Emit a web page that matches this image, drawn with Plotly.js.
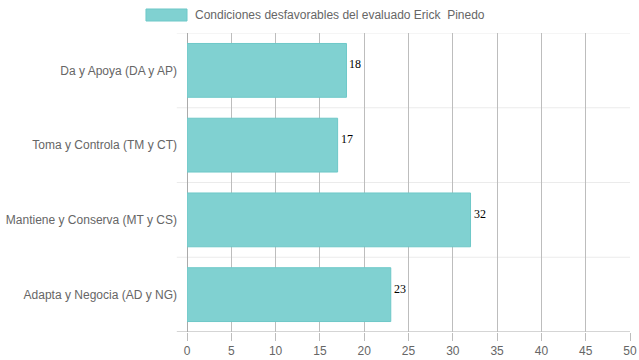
<!DOCTYPE html>
<html><head><meta charset="utf-8">
<script src="https://cdn.plot.ly/plotly-3.0.1.min.js"></script>
<style>html,body{margin:0;padding:0;background:#fff}#c{width:639px;height:360px}</style>
</head><body><div id="c"></div>
<script>
const categories = ["Da y Apoya (DA y AP)", "Toma y Controla (TM y CT)", "Mantiene y Conserva (MT y CS)", "Adapta y Negocia (AD y NG)"];
const values = [18, 17, 32, 23];
const seriesName = "Condiciones desfavorables del evaluado Erick  Pinedo";
const xTicks = [0, 5, 10, 15, 20, 25, 30, 35, 40, 45, 50];

const trace = {
  type: "bar", orientation: "h",
  x: values, y: categories, width: 0.72,
  marker: {color: "rgb(128,209,209)", line: {color: "rgb(110,200,200)", width: 1}},
  hoverinfo: "none", showlegend: false
};

const shapes = [];
for (let i = 0; i <= categories.length; i++) {
  shapes.push({type: "line", xref: "paper", yref: "y", x0: -0.023, x1: 1, y0: i - 0.5, y1: i - 0.5,
    line: {color: i === categories.length ? "#aaaaaa" : "#ebebeb", width: 1}, layer: "below"});
}
shapes.push({type: "rect", xref: "paper", yref: "paper", x0: -0.0926, x1: 0, y0: 1.0401, y1: 1.0803,
  fillcolor: "rgb(128,209,209)", line: {color: "rgb(110,200,200)", width: 1}});

const annotations = values.map((v, i) => ({
  x: v, y: categories[i], xref: "x", yref: "y", text: String(v), showarrow: false,
  xanchor: "left", yanchor: "middle", xshift: 1, yshift: 6,
  font: {family: "Liberation Serif, serif", size: 12, color: "#000"}
}));
annotations.push({x: 0.0135, y: 1.0602, xref: "paper", yref: "paper", text: seriesName, showarrow: false,
  xanchor: "left", yanchor: "middle", font: {family: "Liberation Sans, Arial, sans-serif", size: 12, color: "#666"}});

const layout = {
  width: 639, height: 360,
  margin: {l: 187, r: 9, t: 33, b: 28, pad: 0},
  paper_bgcolor: "#fff", plot_bgcolor: "#fff",
  font: {family: "Liberation Sans, Arial, sans-serif", size: 12, color: "#666"},
  xaxis: {range: [0, 50], tickvals: xTicks, ticktext: xTicks.map(String),
    showgrid: true, gridcolor: "#bdbdbd", gridwidth: 1, zeroline: true, zerolinecolor: "#aaaaaa",
    ticks: "outside", ticklen: 8, tickcolor: "#bdbdbd", showline: false, fixedrange: true},
  yaxis: {type: "category", categoryorder: "array", categoryarray: categories,
    range: [3.5, -0.5], showgrid: false, zeroline: false, ticks: "", ticklabelstandoff: 9,
    showline: false, fixedrange: true},
  shapes: shapes, annotations: annotations,
  bargap: 0.28, showlegend: false
};
Plotly.newPlot("c", [trace], layout, {displayModeBar: false, staticPlot: true});
</script></body></html>
